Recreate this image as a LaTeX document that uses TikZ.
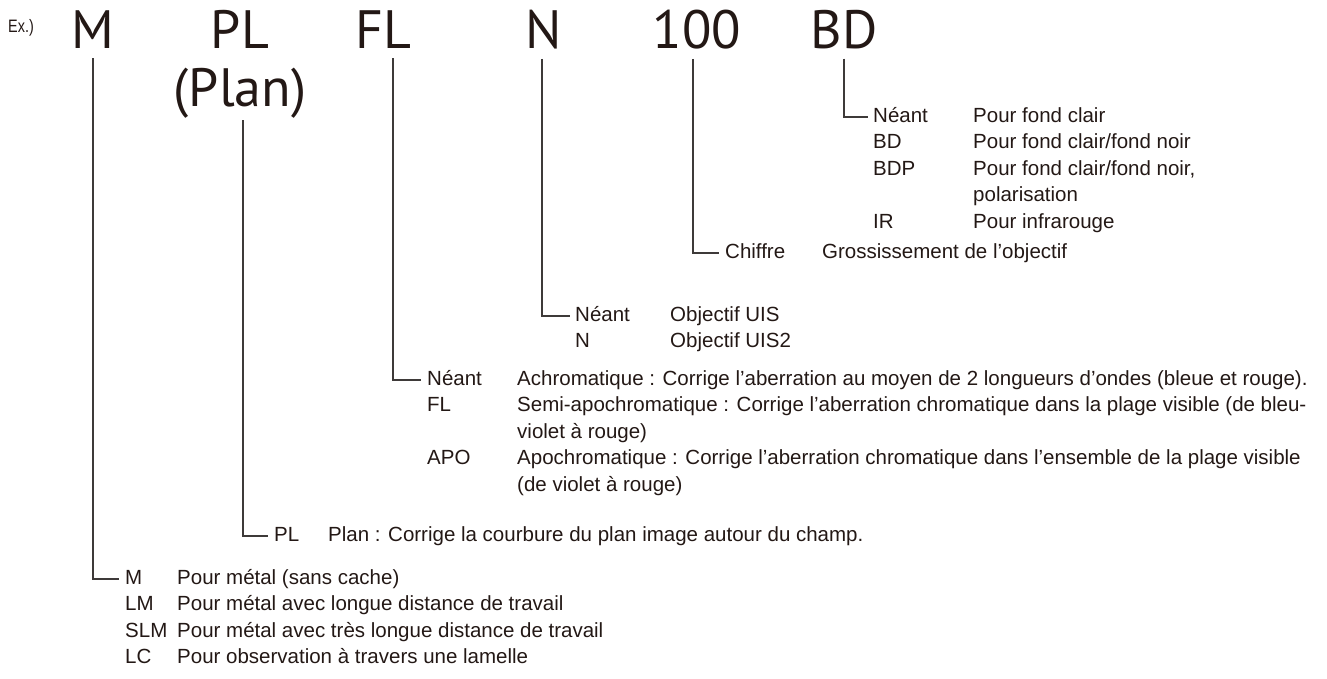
\documentclass[tikz,border=0pt]{standalone}
\usepackage{fontspec}
\setmainfont{Liberation Sans}
\newfontfamily\bigfamily{PT Sans}
\definecolor{ink}{HTML}{231815}
\definecolor{rulecol}{HTML}{3E3A39}

\begin{document}
\begin{tikzpicture}[x=1pt,y=-1pt,
  big/.style={anchor=base, inner sep=0pt, font=\bigfamily\fontsize{54}{58}\selectfont, text=ink},
  code/.style={anchor=base west, inner sep=0pt, font=\fontsize{20.5}{24}\selectfont, text=ink},
  leader/.style={draw=rulecol, line width=1.1pt},
]
\useasboundingbox (0,0) rectangle (1327,678);

% reference designation
\node[anchor=base west, inner sep=0pt, font=\fontsize{18}{20}\selectfont, text=ink] (ex) at (8,32) {\scalebox{0.8}[1]{Ex.)}};
\node[big] (bM)   at (93,48)  {M};
\node[big] (bPL)  at (240,48) {PL};
\node[big] (bPlan) at (240,106) {(Plan)};
\node[big] (bFL)  at (383,48) {FL};
\node[big] (bN)   at (544,48) {N};
\node[big] (b100) at (697,48) {100};
\node[big] (bBD)  at (844,48) {BD};

% BD: observation method
\node[code] (cBD0) at (873,122) {Néant};
\node[code] (dBD0) at (973,122) {Pour fond clair};
\node[code] (cBD1) at (873,148.5) {BD};
\node[code] (dBD1) at (973,148.5) {Pour fond clair/fond noir};
\node[code] (cBD2) at (873,175) {BDP};
\node[code] (dBD2) at (973,175) {Pour fond clair/fond noir,};
\node[code] (dBD2b) at (973,201.5) {polarisation};
\node[code] (cBD3) at (873,228) {IR};
\node[code] (dBD3) at (973,228) {Pour infrarouge};

% magnification
\node[code] (c100) at (725,258) {Chiffre};
\node[code] (d100) at (822,258) {Grossissement de l’objectif};

% N: optical system
\node[code] (cN0) at (575,321) {Néant};
\node[code] (dN0) at (670,321) {Objectif UIS};
\node[code] (cN1) at (575,347.5) {N};
\node[code] (dN1) at (670,347.5) {Objectif UIS2};

% FL: chromatic correction
\node[code] (cFL0) at (427,385) {Néant};
\node[code] (dFL0) at (517,385) {Achromatique : Corrige l’aberration au moyen de 2 longueurs d’ondes (bleue et rouge).};
\node[code] (cFL1) at (427,411.5) {FL};
\node[code] (dFL1) at (517,411.5) {Semi-apochromatique : Corrige l’aberration chromatique dans la plage visible (de bleu-};
\node[code] (dFL1b) at (517,438) {violet à rouge)};
\node[code] (cFL2) at (427,464.5) {APO};
\node[code] (dFL2) at (517,464.5) {Apochromatique : Corrige l’aberration chromatique dans l’ensemble de la plage visible};
\node[code] (dFL2b) at (517,491) {(de violet à rouge)};

% PL: flat field
\node[code] (cPL) at (274,541) {PL};
\node[code] (dPL) at (328,541) {Plan : Corrige la courbure du plan image autour du champ.};

% M: application
\node[code] (cM0) at (125,584) {M};
\node[code] (dM0) at (177,584) {Pour métal (sans cache)};
\node[code] (cM1) at (125,610.5) {LM};
\node[code] (dM1) at (177,610.5) {Pour métal avec longue distance de travail};
\node[code] (cM2) at (125,637) {SLM};
\node[code] (dM2) at (177,637) {Pour métal avec très longue distance de travail};
\node[code] (cM3) at (125,663.5) {LC};
\node[code] (dM3) at (177,663.5) {Pour observation à travers une lamelle};

% leaders from each letter group to its table
\draw[leader] ([yshift=-10pt]bBD.south) |- ([xshift=-5pt,yshift=5pt]cBD0.base west);
\draw[leader] ([xshift=-4pt,yshift=-10pt]b100.south) |- ([xshift=-6pt,yshift=5pt]c100.base west);
\draw[leader] ([xshift=-2pt,yshift=-10pt]bN.south) |- ([xshift=-5pt,yshift=5pt]cN0.base west);
\draw[leader] ([xshift=10pt,yshift=-10pt]bFL.south) |- ([xshift=-6pt,yshift=5pt]cFL0.base west);
\draw[leader] ([xshift=3pt,yshift=-2pt]bPlan.south) |- ([xshift=-6pt,yshift=5pt]cPL.base west);
\draw[leader] ([yshift=-10pt]bM.south) |- ([xshift=-6pt,yshift=5pt]cM0.base west);
\end{tikzpicture}
\end{document}
